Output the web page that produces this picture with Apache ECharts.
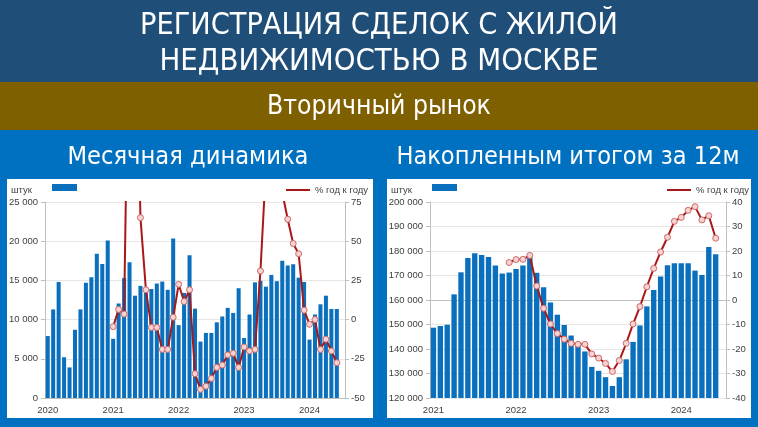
<!DOCTYPE html>
<html><head><meta charset="utf-8">
<script src="https://cdn.jsdelivr.net/npm/echarts@6/dist/echarts.min.js"></script>
<style>html,body{margin:0;padding:0;background:#0070C0;overflow:hidden}#c{width:758px;height:427px}</style>
</head><body><div id="c"></div>
<script>
// ---- categories ----
const monthsMonthly = [
 '2020-01','2020-02','2020-03','2020-04','2020-05','2020-06','2020-07','2020-08','2020-09','2020-10','2020-11','2020-12',
 '2021-01','2021-02','2021-03','2021-04','2021-05','2021-06','2021-07','2021-08','2021-09','2021-10','2021-11','2021-12',
 '2022-01','2022-02','2022-03','2022-04','2022-05','2022-06','2022-07','2022-08','2022-09','2022-10','2022-11','2022-12',
 '2023-01','2023-02','2023-03','2023-04','2023-05','2023-06','2023-07','2023-08','2023-09','2023-10','2023-11','2023-12',
 '2024-01','2024-02','2024-03','2024-04','2024-05','2024-06','2024-07'];
const monthsRolling = [
 '2021-01','2021-02','2021-03','2021-04','2021-05','2021-06','2021-07','2021-08','2021-09','2021-10','2021-11','2021-12',
 '2022-01','2022-02','2022-03','2022-04','2022-05','2022-06','2022-07','2022-08','2022-09','2022-10','2022-11','2022-12',
 '2023-01','2023-02','2023-03','2023-04','2023-05','2023-06','2023-07','2023-08','2023-09','2023-10','2023-11','2023-12',
 '2024-01','2024-02','2024-03','2024-04','2024-05','2024-06','2024-07'];

// ---- monthly deals (штук) ----
const monthlyDeals = [
 7900, 11300, 14800, 5200, 3900, 8700, 11300, 14700, 15400, 18400, 17100, 20100,
 7550, 12050, 15300, 17300, 13050, 14300, 13400, 13900, 14600, 14850, 13800, 20350,
 9300, 13400, 18200, 11400, 7200, 8300, 8300, 9650, 10400, 11500, 10850, 14000,
 7650, 10650, 14750, 14950, 14200, 15700, 14900, 17500, 16900, 17050, 15350, 14800,
 7450, 10650, 11950, 13050, 11350, 11350, null];
// ---- monthly % y/y ----
const monthlyYoY = [
 null, null, null, null, null, null, null, null, null, null, null, null,
 -4.5, 6.5, 3.5, 235, 235, 65, 19, -5, -5, -19, -19, 1.5,
 22.5, 11.5, 19, -34.5, -44.5, -42.5, -37.5, -30.5, -29, -22.5, -21.5, -30.5,
 -17.5, -20, -19, 31, 97, 89, 80, 81, 64, 48.5, 42, 6,
 -3, 0, -19, -12.5, -20, -27.5, null];

// ---- rolling 12m deals (штук) ----
const rollingDeals = [
 148700, 149400, 149900, 162300, 171300, 177100, 179100, 178400, 177600, 174100, 170800, 171200,
 172700, 174100, 178200, 171100, 165200, 159000, 154000, 149800, 145500, 142700, 139000, 132700,
 131100, 128500, 124900, 128500, 135800, 142900, 149600, 157400, 164100, 169600, 174200, 175000,
 175000, 175000, 172000, 170200, 181600, 178700, null];
// ---- rolling 12m % y/y ----
const rollingYoY = [
 null, null, null, null, null, null, null, null, null, null, null, 15.3,
 16.5, 16.6, 18.2, 5.7, -3.4, -9.8, -13.7, -16, -17.7, -18.1, -18.1, -22,
 -23.7, -25.9, -29.2, -24.7, -17.7, -9.8, -2.7, 5.4, 12.9, 19.6, 25.6, 32.1,
 33.7, 36.6, 38.1, 32.7, 34.4, 25.2, null];

const txt = {
  title1: 'РЕГИСТРАЦИЯ СДЕЛОК С ЖИЛОЙ',
  title2: 'НЕДВИЖИМОСТЬЮ В МОСКВЕ',
  band: 'Вторичный рынок',
  sub1: 'Месячная динамика',
  sub2: 'Накопленным итогом за 12м',
  unit: 'штук',
  yoy: '% год к году'
};

const FONT = '"Liberation Sans", Arial, sans-serif';
const HFONT = '"Liberation Sans Narrow", "DejaVu Sans Condensed", "Liberation Sans", sans-serif';
const labelColor = '#404040';
const fmtThousands = v => String(v).replace(/\B(?=(\d{3})+(?!\d))/g, ' ');

const chart = echarts.init(document.getElementById('c'), null, {renderer: 'canvas'});

function xAxisDef(gridIndex, cats) {
  return {
    type: 'category', gridIndex, data: cats,
    axisLine: {show: true, lineStyle: {color: '#BFBFBF'}},
    axisTick: {show: false},
    axisLabel: {
      interval: (i, v) => v.endsWith('-01'),
      formatter: v => v.slice(0, 4),
      color: labelColor, fontFamily: FONT, fontSize: 9.5, margin: 7
    },
    splitLine: {show: false}
  };
}
function yLeft(gridIndex, min, max, interval) {
  return {
    type: 'value', gridIndex, min, max, interval, position: 'left',
    axisLine: {show: true, lineStyle: {color: '#BFBFBF'}},
    axisTick: {show: true, length: 4, lineStyle: {color: '#BFBFBF'}},
    axisLabel: {color: labelColor, fontFamily: FONT, fontSize: 9.5, margin: 7, formatter: fmtThousands},
    splitLine: {show: true, lineStyle: {color: '#E6E6E6', width: 1}}
  };
}
function yRight(gridIndex, min, max, interval) {
  return {
    type: 'value', gridIndex, min, max, interval, position: 'right',
    axisLine: {show: true, lineStyle: {color: '#BFBFBF'}},
    axisTick: {show: true, length: 4, lineStyle: {color: '#BFBFBF'}},
    axisLabel: {color: labelColor, fontFamily: FONT, fontSize: 9.5, margin: 6},
    splitLine: {show: false}
  };
}
const lineStyleSeries = {
  type: 'line', symbol: 'circle', symbolSize: 6, showAllSymbol: true, clip: true, connectNulls: false,
  lineStyle: {color: '#A81818', width: 2},
  itemStyle: {color: '#F6D2D2', borderColor: '#CC6B68', borderWidth: 1},
  emphasis: {disabled: true}, z: 3
};

const option = {
  animation: false,
  backgroundColor: '#0070C0',
  graphic: [
    {type: 'rect', shape: {x: 0, y: 0, width: 758, height: 82}, style: {fill: '#1F4E79'}, silent: true, z: -10},
    {type: 'rect', shape: {x: 0, y: 82, width: 758, height: 48}, style: {fill: '#7F6000'}, silent: true, z: -10},
    {type: 'rect', shape: {x: 7, y: 179, width: 366, height: 239}, style: {fill: '#FFFFFF'}, silent: true, z: -10},
    {type: 'rect', shape: {x: 387, y: 179, width: 364, height: 239}, style: {fill: '#FFFFFF'}, silent: true, z: -10},
    {type: 'text', style: {text: txt.title1, x: 379, y: 26, align: 'center', verticalAlign: 'middle', fill: '#FFFFFF', font: '30.3px ' + HFONT}, silent: true},
    {type: 'text', style: {text: txt.title2, x: 379, y: 62, align: 'center', verticalAlign: 'middle', fill: '#FFFFFF', font: '30.8px ' + HFONT}, silent: true},
    {type: 'text', style: {text: txt.band, x: 379, y: 107, align: 'center', verticalAlign: 'middle', fill: '#FFFFFF', font: '26.3px ' + HFONT}, silent: true},
    {type: 'text', style: {text: txt.sub1, x: 188, y: 157, align: 'center', verticalAlign: 'middle', fill: '#FFFFFF', font: '25.2px ' + HFONT}, silent: true},
    {type: 'text', style: {text: txt.sub2, x: 568, y: 157, align: 'center', verticalAlign: 'middle', fill: '#FFFFFF', font: '25.1px ' + HFONT}, silent: true},
    {type: 'text', style: {text: txt.unit, x: 11, y: 190, align: 'left', verticalAlign: 'middle', fill: labelColor, font: '9.5px ' + FONT}, silent: true},
    {type: 'text', style: {text: txt.unit, x: 391, y: 190, align: 'left', verticalAlign: 'middle', fill: labelColor, font: '9.5px ' + FONT}, silent: true}
  ],
  legend: [
    {left: 52, top: 184, padding: 0, itemWidth: 25, itemHeight: 7, selectedMode: false,
     data: [{name: 'Сделки за месяц', icon: 'rect'}], formatter: () => ''},
    {left: 286, top: 185, padding: 0, itemWidth: 24, itemHeight: 2, itemGap: 4, selectedMode: false,
     data: [{name: txt.yoy, icon: 'rect', itemStyle: {color: '#A81818', borderWidth: 0}}],
     textStyle: {color: labelColor, fontFamily: FONT, fontSize: 9.5}},
    {left: 432, top: 184, padding: 0, itemWidth: 25, itemHeight: 7, selectedMode: false,
     data: [{name: 'Сделки за 12 месяцев', icon: 'rect'}], formatter: () => ''},
    {left: 667, top: 185, padding: 0, itemWidth: 24, itemHeight: 2, itemGap: 4, selectedMode: false,
     data: [{name: txt.yoy, icon: 'rect', itemStyle: {color: '#A81818', borderWidth: 0}}],
     textStyle: {color: labelColor, fontFamily: FONT, fontSize: 9.5}}
  ],
  grid: [
    {left: 45, right: 413, top: 202, bottom: 29, containLabel: false},
    {left: 430, right: 32, top: 202, bottom: 29, containLabel: false}
  ],
  xAxis: [xAxisDef(0, monthsMonthly), xAxisDef(1, monthsRolling)],
  yAxis: [
    yLeft(0, 0, 25000, 5000),
    yRight(0, -50, 75, 25),
    yLeft(1, 120000, 200000, 10000),
    yRight(1, -40, 40, 10)
  ],
  series: [
    {name: 'Сделки за месяц', type: 'bar', xAxisIndex: 0, yAxisIndex: 0, data: monthlyDeals,
     barCategoryGap: '26%', itemStyle: {color: '#0A70BE'}, emphasis: {disabled: true}},
    Object.assign({name: txt.yoy, xAxisIndex: 0, yAxisIndex: 1, data: monthlyYoY}, lineStyleSeries),
    {name: 'Сделки за 12 месяцев', type: 'bar', xAxisIndex: 1, yAxisIndex: 2, data: rollingDeals,
     barCategoryGap: '22%', itemStyle: {color: '#0A70BE'}, emphasis: {disabled: true}},
    Object.assign({name: txt.yoy, xAxisIndex: 1, yAxisIndex: 3, data: rollingYoY}, lineStyleSeries)
  ]
};
chart.setOption(option);
</script>
</body></html>
